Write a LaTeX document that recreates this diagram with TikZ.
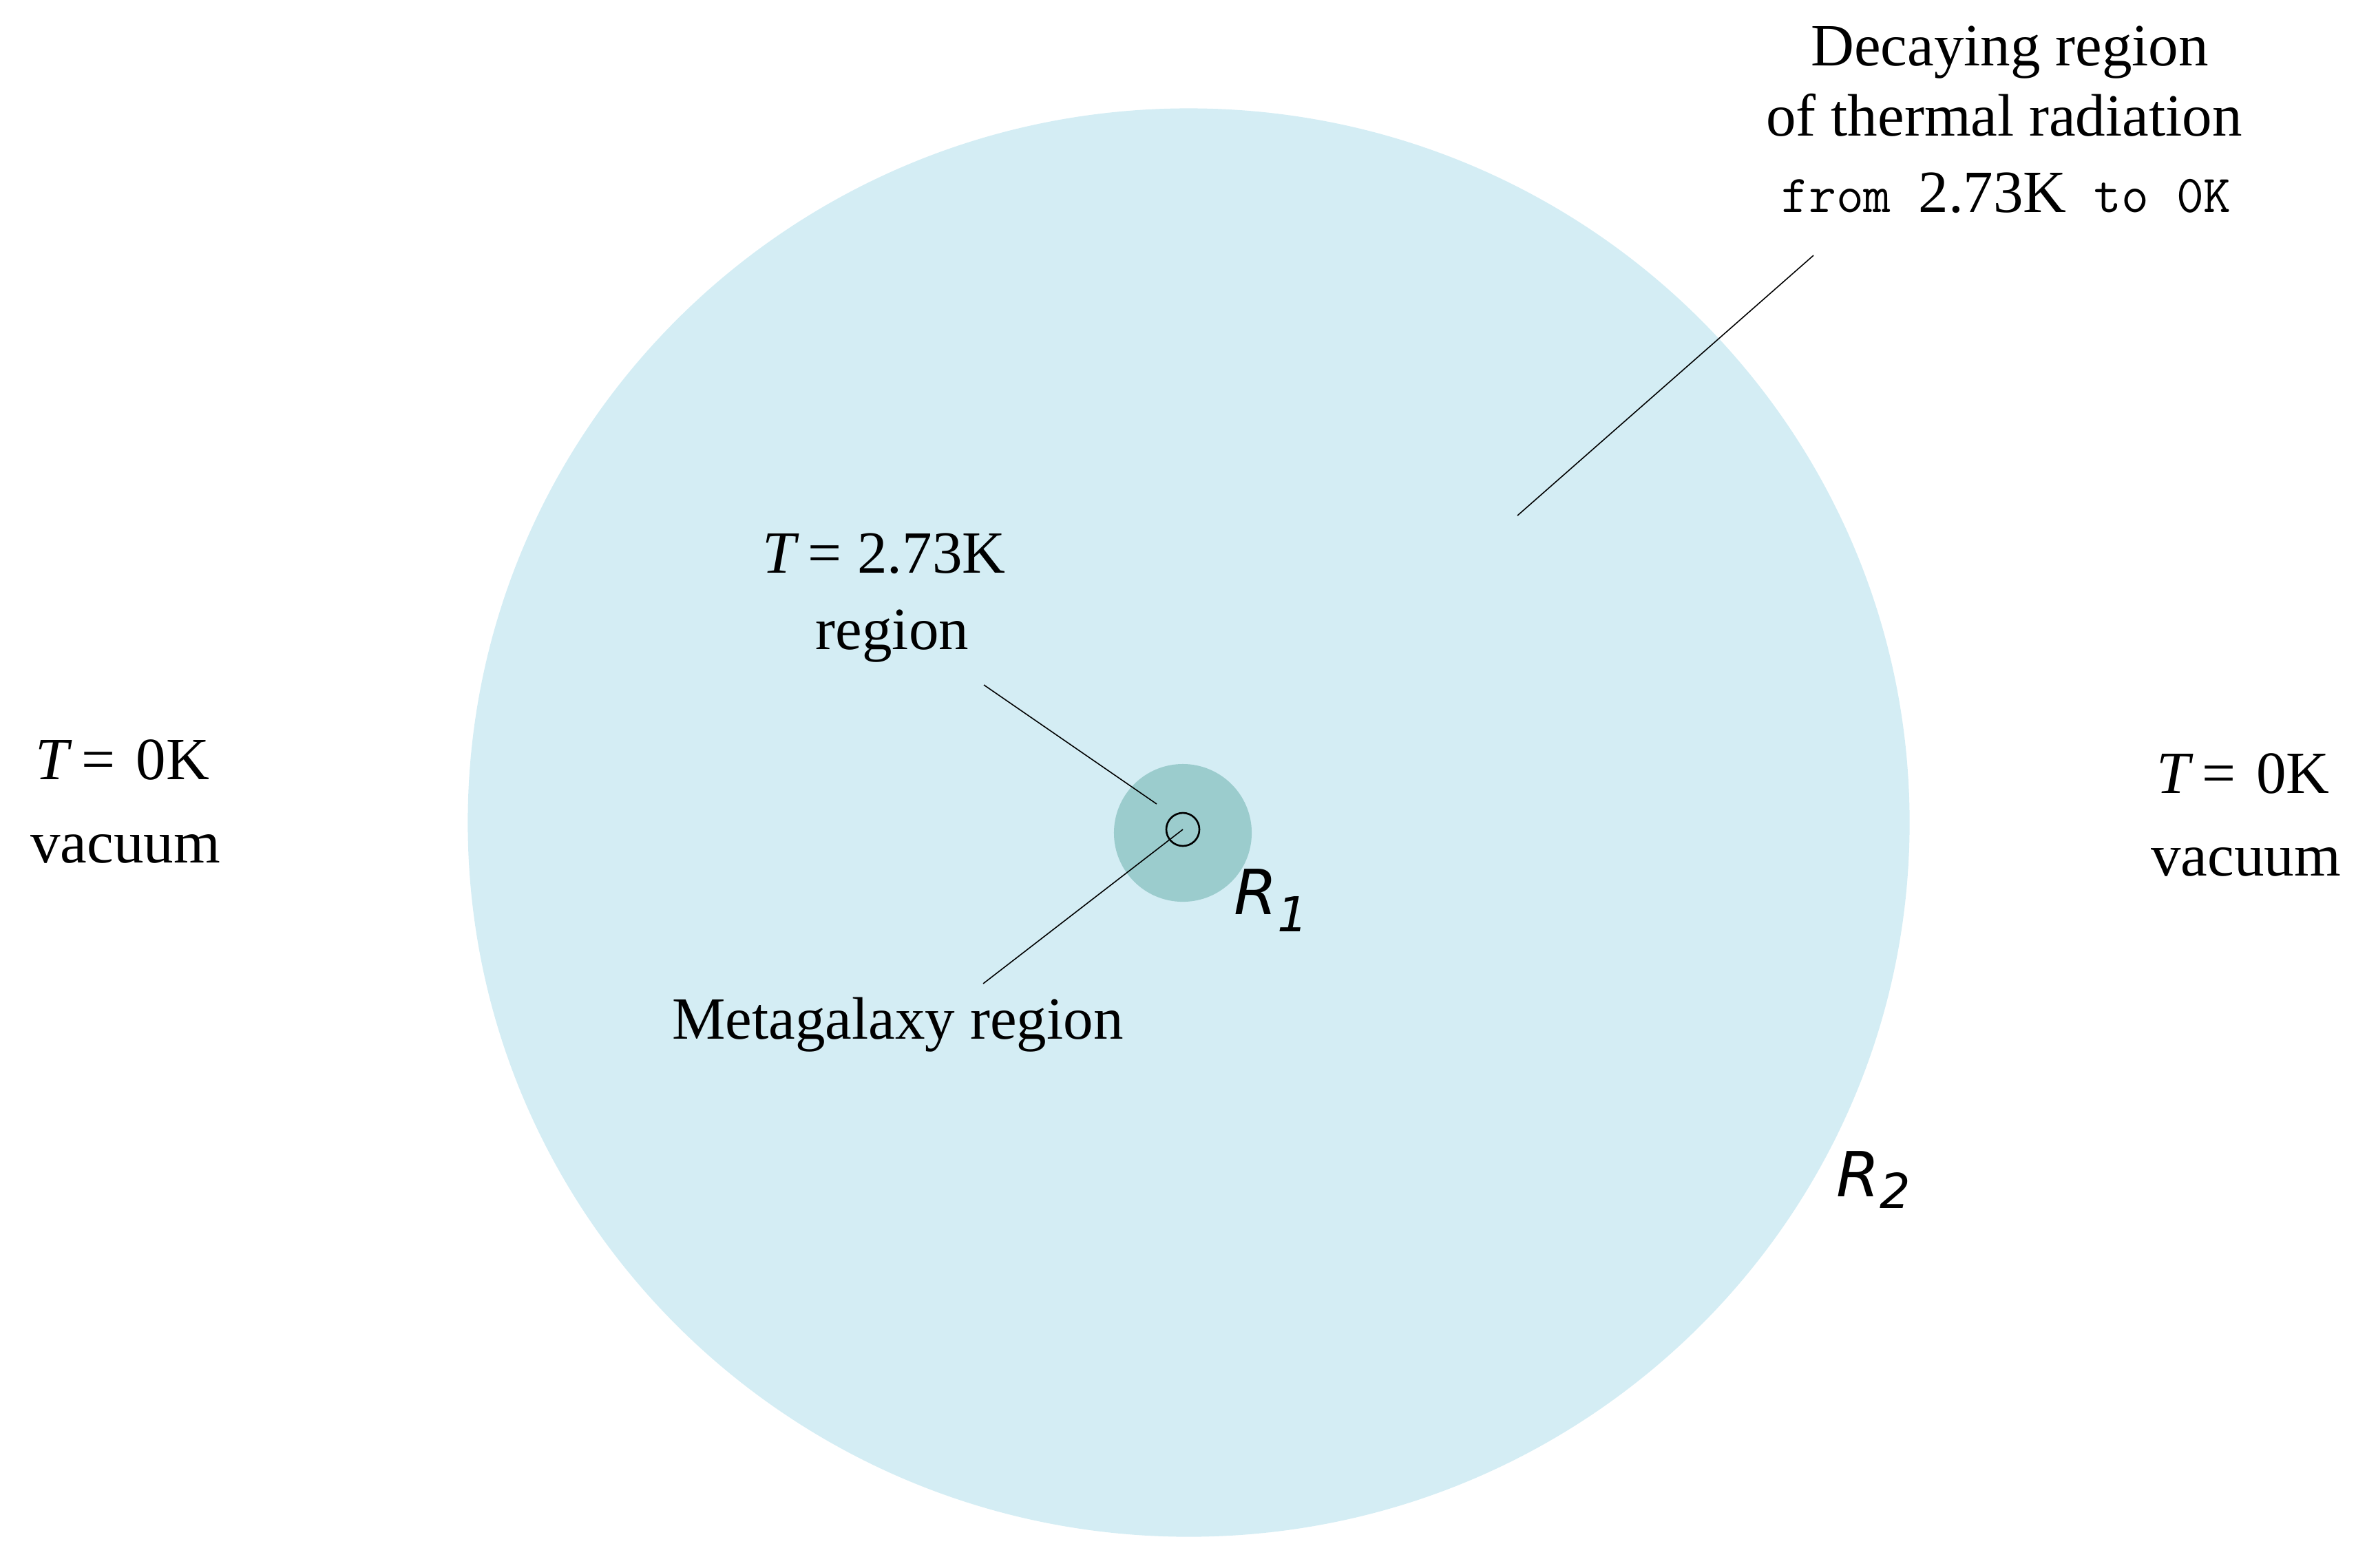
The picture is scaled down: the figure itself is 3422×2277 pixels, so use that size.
\documentclass[tikz,border=0pt]{standalone}
\usepackage{fontspec}
\setmainfont{Liberation Serif}
\newfontfamily\rfont{DejaVu Sans}
\definecolor{outerblue}{RGB}{212,237,244}
\definecolor{innerteal}{RGB}{155,204,205}
\tikzset{
  lbl/.style={anchor=base, inner sep=0pt, font=\fontsize{24.75pt}{30pt}\selectfont},
  rlbl/.style={anchor=base west, inner sep=0pt, font=\rfont\itshape\fontsize{25.7pt}{30pt}\selectfont},
  leader/.style={line width=0.45pt, black},
  ring/.style={draw, circle, minimum size=0.48cm, inner sep=0pt, line width=0.75pt},
}
\newcommand{\Tsym}{\textit{T}}
\newcommand{\monotext}[1]{{\ttfamily\fontsize{22pt}{26pt}\selectfont #1}}
\newcommand{\rsub}[2]{\raisebox{-#1}{\fontsize{19.9pt}{24pt}\selectfont #2}}
\begin{document}
\begin{tikzpicture}[x=0.01cm,y=-0.01cm]
\useasboundingbox (0,0) rectangle (3422,2277);
% regions
\fill[outerblue] (1726.5,1195) ellipse [x radius=10.465cm, y radius=10.37cm];
\fill[innerteal] (1718,1210) circle [radius=1.0cm];
\node[ring] (meta) at (1718,1205) {};
% labels
\node[lbl] (decay1) at (2919,95) {Decaying region};
\node[lbl] (decay2) at (2911,197) {of thermal radiation};
\node[lbl] (decay3) at (2914,308) {\monotext{from }2.73K\monotext{ to 0K}};
\node[lbl] (tin1) at (1284,832) {\Tsym\kern0.12cm=\kern0.23cm2.73K};
\node[lbl] (tin2) at (1296,943) {region};
\node[lbl] (metalbl) at (1304,1509) {Metagalaxy region};
\node[lbl] (left1) at (178,1132) {\Tsym\kern0.13cm=\kern0.3cm0K};
\node[lbl] (left2) at (182,1253) {vacuum};
\node[lbl] (right1) at (3258,1152) {\Tsym\kern0.12cm=\kern0.3cm0K};
\node[lbl] (right2) at (3262,1272) {vacuum};
\node[rlbl] (r1) at (1792,1328) {R\rsub{0.25cm}{1}};
\node[rlbl] (r2) at (2667,1738) {R\rsub{0.17cm}{2}};
% leaders
\coordinate (tinEnd) at (1429,995);
\coordinate (tinTip) at (1680,1168);
\draw[leader] (tinEnd) -- (tinTip);
\coordinate (metaEnd) at (1428,1429);
\draw[leader] (metaEnd) -- (meta.center);
\coordinate (decayEnd) at (2634,371);
\coordinate (decayTip) at (2204,749);
\draw[leader] (decayEnd) -- (decayTip);
\end{tikzpicture}
\end{document}
